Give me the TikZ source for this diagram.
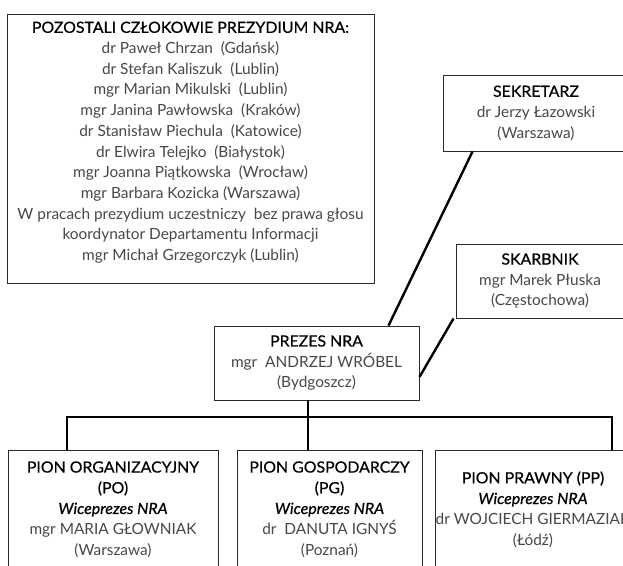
\documentclass[tikz,border=0pt]{standalone}
\usepackage{fontspec}
\setmainfont{Lato}
\newfontfamily\headfont[FakeStretch=1.03,FakeBold=0.6]{Lato}
\definecolor{namec}{HTML}{484848}
\definecolor{framec}{HTML}{2A2A2A}
\tikzset{
  txtfont/.style={font=\fontsize{15.4}{20.7}\selectfont},
  box/.style={draw=framec, line width=0.9pt, fill=white, align=center, inner sep=0pt, txtfont},
  plaintext/.style={align=center, inner sep=0pt, txtfont},
  conn/.style={line width=2.4pt, black},
}
\newcommand{\hd}[1]{\textcolor{black}{\headfont #1}}
\newcommand{\nm}[1]{\textcolor{namec}{#1}}
\newcommand{\vp}{\textcolor{black}{\headfont\itshape Wiceprezes NRA}}
\begin{document}
\begin{tikzpicture}[x=1pt,y=-1pt]
\useasboundingbox (0,0) rectangle (623,565);
\clip (0,0) rectangle (623,565);

% members box
\node[box, minimum width=367pt, minimum height=269pt] (members) at (190.5,148.5) {};
\node[plaintext] (memberstext) at (190.5,142.5) {%
\hd{POZOSTALI CZŁOKOWIE PREZYDIUM NRA:}\\
\nm{dr Paweł Chrzan\ \ (Gdańsk)}\\
\nm{dr Stefan Kaliszuk\ \ (Lublin)}\\
\nm{mgr Marian Mikulski\ \ (Lublin)}\\
\nm{mgr Janina Pawłowska\ \ (Kraków)}\\
\nm{dr Stanisław Piechula\ \ (Katowice)}\\
\nm{dr Elwira Telejko\ \ (Białystok)}\\
\nm{mgr Joanna Piątkowska\ \ (Wrocław)}\\
\nm{mgr Barbara Kozicka (Warszawa)}\\
\nm{W pracach prezydium uczestniczy\ \ bez prawa głosu}\\
\nm{koordynator Departamentu Informacji}\\
\nm{mgr Michał Grzegorczyk (Lublin)}};

% sekretarz
\node[box, minimum width=186pt, minimum height=76pt] (sek) at (536,113) {%
\hd{SEKRETARZ}\\ \nm{dr Jerzy Łazowski}\\ \nm{(Warszawa)}};

% skarbnik
\node[box, minimum width=168pt, minimum height=74pt] (skar) at (540,281) {%
\hd{SKARBNIK}\\ \nm{mgr Marek Płuska}\\ \nm{(Częstochowa)}};

% prezes
\node[box, minimum width=205pt, minimum height=74pt] (prezes) at (316.5,363) {%
\hd{PREZES NRA}\\ \nm{mgr\ \ ANDRZEJ WRÓBEL}\\ \nm{(Bydgoszcz)}};

% piony
\node[box, minimum width=210pt, minimum height=119pt] (org) at (113,509.5) {%
\hd{PION ORGANIZACYJNY}\\ \hd{(PO)}\\ \vp\\ \nm{mgr MARIA GŁOWNIAK}\\ \nm{(Warszawa)}};
\node[box, minimum width=185pt, minimum height=119pt] (gosp) at (329.5,509.5) {%
\hd{PION GOSPODARCZY}\\ \hd{(PG)}\\ \vp\\ \nm{dr\ \ DANUTA IGNYŚ}\\ \nm{(Poznań)}};
\node[box, minimum width=194pt, minimum height=119pt] (prawny) at (533,509.5) {%
\hd{PION PRAWNY (PP)}\\ \vp\\ \nm{dr WOJCIECH GIERMAZIAK}\\ \nm{(Łódź)}};

% connectors
\coordinate (bus) at (308,417);
\draw[conn] ([xshift=30pt]sek.south west) -- ([xshift=175pt]prezes.north west);
\draw[conn] ([xshift=-2pt]skar.south west) -- ([yshift=-14pt]prezes.east);
\draw[conn] ([xshift=-8.5pt]prezes.south) -- (bus);
\draw[conn] (bus) -- ([xshift=-21.5pt]gosp.north);
\draw[conn] ([xshift=-46pt]org.north) |- (bus) -| ([xshift=79pt]prawny.north);
\end{tikzpicture}
\end{document}
